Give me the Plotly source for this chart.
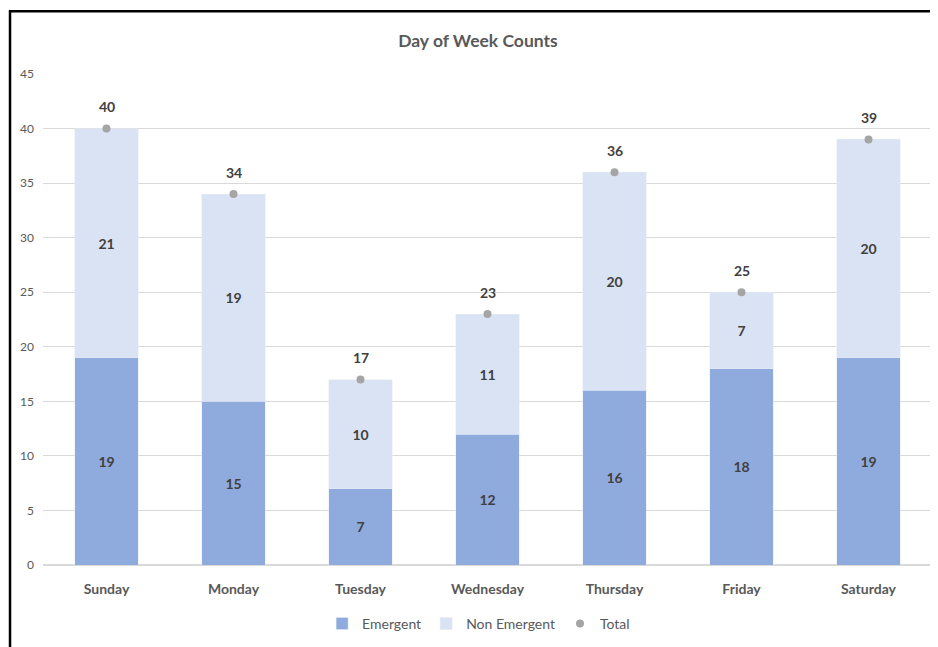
import plotly.graph_objects as go

days = ["Sunday", "Monday", "Tuesday", "Wednesday", "Thursday", "Friday", "Saturday"]
emergent = [19, 15, 7, 12, 16, 18, 19]
non_emergent = [21, 19, 10, 11, 20, 7, 20]
total = [40, 34, 17, 23, 36, 25, 39]

FONT = "Lato"
LBL = dict(family=FONT, size=14, color="#404040")

fig = go.Figure()
fig.add_trace(go.Bar(
    x=days, y=emergent, name="Emergent", marker_color="#8FAADC",
    text=[f"<b>{v}</b>" for v in emergent], textposition="inside",
    insidetextanchor="middle", textfont=LBL, hoverinfo="skip"))
fig.add_trace(go.Bar(
    x=days, y=non_emergent, name="Non Emergent", marker_color="#DAE3F3",
    text=[f"<b>{v}</b>" for v in non_emergent], textposition="inside",
    insidetextanchor="middle", textfont=LBL, hoverinfo="skip"))
fig.add_trace(go.Scatter(
    x=days, y=total, name="Total", mode="markers",
    marker=dict(color="#A5A5A5", size=8), hoverinfo="skip"))

for d, t in zip(days, total):
    fig.add_annotation(x=d, y=t, text=f"<b>{t}</b>", showarrow=False,
                       yshift=22, font=LBL)

# page body has an 8px offset; margins compensate so plot area lands in place
fig.update_layout(
    width=938, height=647,
    barmode="stack", bargap=0.5,
    paper_bgcolor="white", plot_bgcolor="white",
    margin=dict(l=35, r=14, t=66, b=90),
    title=dict(text="<b>Day of Week Counts</b>", x=0.501, xanchor="center",
               y=1 - 33 / 647, yanchor="middle",
               font=dict(family=FONT, size=17.5, color="#595959")),
    font=dict(family=FONT, color="#595959"),
    showlegend=True,
    legend=dict(orientation="h", x=0.49, xanchor="center", y=-0.12, yanchor="middle",
                font=dict(family=FONT, size=14, color="#595959"),
                traceorder="normal", itemwidth=30),
    uniformtext=dict(mode="show", minsize=10),
)
fig.update_xaxes(showgrid=False, showline=False, ticks="",
                 tickfont=dict(family=FONT, size=14, color="#595959"),
                 tickvals=days, ticktext=[f"<b>{d}</b>" for d in days],
                 ticklabelstandoff=14)
fig.update_yaxes(range=[0, 45], dtick=5, showgrid=True, gridcolor="#D9D9D9",
                 zeroline=True, zerolinecolor="#D9D9D9", showline=False, ticks="",
                 tickfont=dict(family=FONT, size=12, color="#595959"),
                 ticklabelstandoff=8)

fig.add_shape(type="rect", xref="paper", yref="paper",
              x0=-0.0371, x1=1.03, y0=-0.25, y1=1.128,
              line=dict(color="black", width=2.5), fillcolor="rgba(0,0,0,0)",
              layer="above")

fig.write_html("out.html")
